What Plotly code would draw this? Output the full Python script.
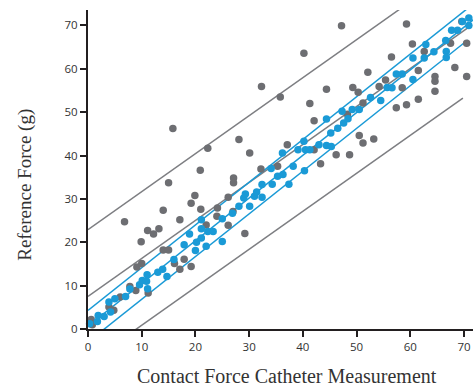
import plotly.graph_objects as go

# ---- data ----
gray_x = [0.6, 0.8, 3.9, 4.8, 6.0, 7.8, 8.9, 11.2, 9.1, 10.0, 6.8, 9.9, 11.1, 12.2, 13.2, 14.0, 14.0, 15.0,
          16.1, 17.9, 17.1, 19.2, 17.1, 19.2, 19.9, 21.0, 22.0, 24.0, 24.1, 26.1, 26.1, 27.0, 29.2, 15.0,
          15.8, 20.9, 22.3, 27.1, 27.1, 28.1, 30.1, 32.3, 35.8, 32.2, 35.3, 37.1, 40.2, 41.3, 42.1, 43.3,
          42.1, 44.4, 46.2, 48.7, 47.2, 48.3, 49.3, 50.3, 51.2, 52.1, 50.5, 51.2, 53.2, 54.2, 55.4, 56.5,
          57.4, 58.5, 59.3, 59.3, 60.4, 61.5, 61.5, 62.6, 64.6, 64.6, 64.6, 67.5, 68.3, 69.6, 70.5, 70.5]
gray_y = [2.2, 1.0, 5.1, 4.3, 7.4, 9.8, 8.9, 8.3, 14.3, 15.1, 24.7, 20.1, 22.7, 21.9, 23.1, 27.4, 18.2, 18.2,
          15.1, 16.1, 13.8, 14.4, 25.2, 29.0, 30.8, 27.6, 24.0, 26.0, 27.9, 23.9, 30.4, 27.1, 22.0, 33.7,
          46.2, 36.6, 41.7, 34.8, 33.7, 43.7, 40.6, 55.9, 53.5, 36.9, 37.5, 42.5, 63.6, 52.0, 48.0, 38.1,
          41.3, 55.3, 40.2, 40.2, 69.9, 49.5, 55.7, 54.6, 52.1, 59.2, 44.6, 42.9, 43.8, 55.9, 57.4, 62.7,
          51.0, 55.6, 51.7, 70.3, 65.7, 59.6, 53.0, 64.0, 58.2, 57.1, 54.8, 65.9, 60.3, 70.9, 65.9, 58.2]

blue_x = [0.3, 1.75, 1.9, 3.0, 3.9, 4.2, 5.0, 7.0, 7.8, 9.6, 10.1, 10.9, 11.0, 11.1, 13.0, 13.9, 14.7, 16.0,
          17.9, 18.9, 20.0, 20.2, 21.1, 21.1, 21.1, 22.0, 22.3, 23.3, 25.0, 25.0, 26.9, 28.1, 30.1, 29.0,
          29.3, 31.0, 31.4, 32.4, 32.4, 34.3, 34.1, 35.3, 36.3, 37.4, 36.2, 38.2, 40.2, 39.1, 40.5, 41.3,
          40.3, 43.0, 44.4, 45.2, 44.4, 45.3, 46.5, 47.6, 48.4, 47.3, 49.2, 50.5, 52.6, 54.5, 55.7, 56.6,
          57.4, 58.5, 60.5, 60.5, 62.6, 62.9, 64.4, 66.6, 66.7, 66.7, 67.7, 68.8, 69.7, 70.9, 70.9]
blue_y = [1.2, 1.75, 3.1, 2.9, 6.2, 3.9, 7.0, 7.5, 9.2, 10.2, 11.2, 11.0, 12.5, 9.3, 13.1, 13.8, 12.1, 16.0,
          19.4, 21.9, 18.1, 20.0, 21.0, 23.1, 25.2, 19.1, 22.5, 22.5, 20.2, 25.4, 26.7, 28.3, 28.3, 30.2,
          31.1, 30.6, 31.6, 30.4, 33.3, 33.4, 37.0, 35.2, 35.6, 33.4, 40.6, 37.5, 43.3, 41.3, 41.3, 41.3,
          36.5, 42.5, 48.4, 45.2, 42.3, 42.1, 46.3, 47.5, 48.5, 50.2, 50.6, 50.6, 53.4, 52.7, 55.7, 55.6,
          58.8, 58.8, 57.5, 62.5, 62.5, 65.6, 63.9, 66.5, 64.0, 62.6, 68.9, 68.9, 70.9, 71.7, 70.0]

# regression lines: intercept, slope, offsets of limit lines, x extents
gray_fit = [7.5, 0.876]
gray_offsets = [15.4, 0.0, -15.4]
gray_xend = [72.0, 71.5, 69.8]
blue_fit = [0.65, 0.985]
blue_offsets = [3.65, 0.0, -3.65]
blue_xend = [72.0, 72.0, 70.7]

tick_vals = [0, 10, 20, 30, 40, 50, 60, 70]

GRAY_DOT = "#6d6e72"
GRAY_LINE = "#7d7e82"
BLUE = "#1a9ad6"

fig = go.Figure()

for off, xe in zip(gray_offsets, gray_xend):
    xs = [0, xe]
    ys = [gray_fit[0] + off + gray_fit[1] * v for v in xs]
    fig.add_trace(go.Scatter(x=xs, y=ys, mode="lines", line=dict(color=GRAY_LINE, width=1.5),
                             hoverinfo="skip", showlegend=False))
for off, xe in zip(blue_offsets, blue_xend):
    xs = [0, xe]
    ys = [blue_fit[0] + off + blue_fit[1] * v for v in xs]
    fig.add_trace(go.Scatter(x=xs, y=ys, mode="lines", line=dict(color=BLUE, width=1.5),
                             hoverinfo="skip", showlegend=False))

fig.add_trace(go.Scatter(x=gray_x, y=gray_y, mode="markers", cliponaxis=False,
                         marker=dict(color=GRAY_DOT, size=7.5), showlegend=False))
fig.add_trace(go.Scatter(x=blue_x, y=blue_y, mode="markers", cliponaxis=False,
                         marker=dict(color=BLUE, size=7.5), showlegend=False))

axis_common = dict(showgrid=False, zeroline=False, showline=True, linecolor="#231f20", linewidth=2,
                   ticks="outside", ticklen=6, tickwidth=1.5, tickcolor="#231f20",
                   tickvals=tick_vals, tickfont=dict(family="Open Sans", size=11.5, color="#333333"))

fig.update_layout(
    width=473, height=387,
    margin=dict(l=88, r=0, t=10, b=58),
    paper_bgcolor="white", plot_bgcolor="white",
    xaxis=dict(range=[0, 71.68], **axis_common),
    yaxis=dict(range=[0, 73.55], **axis_common),
    annotations=[
        dict(text="Contact Force Catheter Measurement", xref="paper", yref="paper",
             x=0.517, y=-0.147, xanchor="center", yanchor="middle", showarrow=False,
             font=dict(family="Liberation Serif", size=20, color="#333333")),
        dict(text="Reference Force (g)", xref="paper", yref="paper",
             x=-0.164, y=0.452, xanchor="center", yanchor="middle", showarrow=False, textangle=-90,
             font=dict(family="Liberation Serif", size=19, color="#333333")),
    ],
)

# remove the browser's default body margin so the figure fills the window exactly
fig.write_html("out.html", config={"displayModeBar": False},
               post_script="document.body.style.margin='0';")
